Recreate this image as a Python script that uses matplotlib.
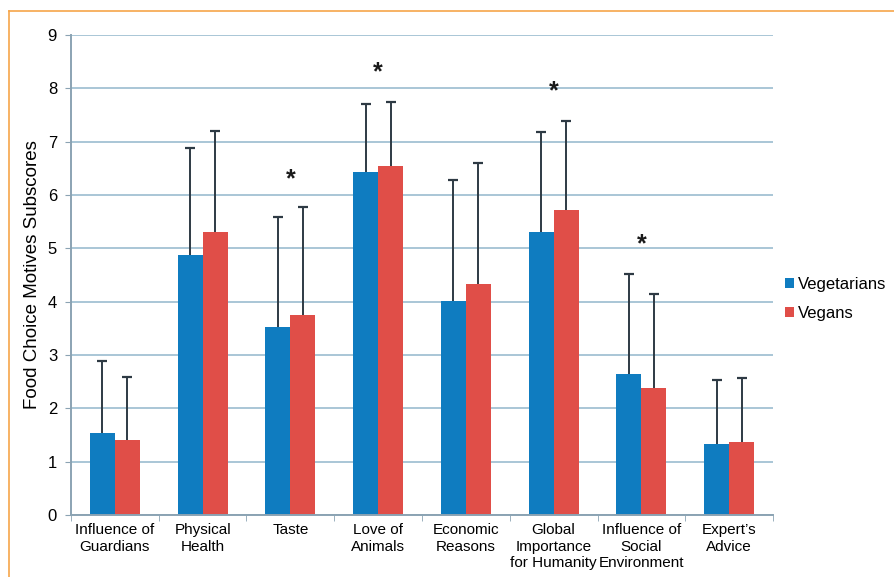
import numpy as np
import matplotlib.pyplot as plt
from matplotlib.lines import Line2D

plt.rcParams['font.family'] = ['Liberation Sans', 'DejaVu Sans']

categories = ["Influence of\nGuardians", "Physical\nHealth", "Taste", "Love of\nAnimals",
              "Economic\nReasons", "Global\nImportance\nfor Humanity",
              "Influence of\nSocial\nEnvironment", "Expert’s\nAdvice"]
veg_mean = [1.53, 4.87, 3.52, 6.44, 4.01, 5.31, 2.64, 1.34]
veg_top = [2.88, 6.88, 5.58, 7.71, 6.29, 7.19, 4.52, 2.53]
vegan_mean = [1.41, 5.30, 3.75, 6.54, 4.33, 5.71, 2.39, 1.36]
vegan_top = [2.59, 7.20, 5.78, 7.75, 6.60, 7.39, 4.14, 2.56]
# significant differences and where the star sits
star_idx = [2, 3, 5, 6]
star_y = [6.3, 8.3, 7.95, 5.08]

blue = "#0f7cc0"
red = "#e04e48"
grid_c = "#a9c6d6"
axis_c = "#8ba3b3"
err_c = "#2e3a44"

fig = plt.figure(figsize=(8.95, 5.77), dpi=100)
ax = fig.add_axes([0.0793, 0.1075, 0.7844, 0.8318])

x = np.arange(len(categories))
w = 0.285
for off, mean, top, col, lab in [(-w / 2, veg_mean, veg_top, blue, "Vegetarians"),
                                 (w / 2, vegan_mean, vegan_top, red, "Vegans")]:
    ax.bar(x + off, mean, w, color=col, label=lab, zorder=2)
    # upper error bar only
    ax.vlines(x + off, mean, top, color=err_c, linewidth=1.4, zorder=3)
    ax.plot(x + off, top, linestyle="none", marker="_", markersize=7,
            markeredgewidth=1.6, color=err_c, zorder=3)

for i, sy in zip(star_idx, star_y):
    ax.text(x[i], sy, "*", ha="center", va="center", fontsize=18,
            fontweight="bold", color="#1a1a1a")

ax.set_xlim(-0.5, len(categories) - 0.5)
ax.set_ylim(0, 9)
ax.set_yticks(range(10))
ax.set_xticks(x)
ax.set_xticklabels(categories, fontsize=11, linespacing=1.2)
ax.set_xticks(np.arange(-0.5, len(categories)), minor=True)
ax.tick_params(axis="x", which="major", length=0, pad=6)
ax.tick_params(axis="x", which="minor", length=4, color=axis_c)
ax.tick_params(axis="y", length=4, color=axis_c, labelsize=12, pad=6)
ax.grid(axis="y", color=grid_c, linewidth=1.4, zorder=0)
for s in ["top", "right"]:
    ax.spines[s].set_visible(False)
for s in ["left", "bottom"]:
    ax.spines[s].set_color(axis_c)
    ax.spines[s].set_linewidth(1.4)
ax.set_ylabel("Food Choice Motives Subscores", fontsize=13.5, labelpad=5)

ax.legend(loc="center left", bbox_to_anchor=(1.0, 0.45), frameon=False,
          fontsize=12, handlelength=0.55, handleheight=0.55, handletextpad=0.25,
          labelspacing=0.8, borderpad=0.2)

# orange frame around the figure
fig.add_artist(Line2D([9 / 895, 1], [1 - 11 / 577] * 2, color="#f6a64a", lw=1.2))
fig.add_artist(Line2D([9 / 895] * 2, [0, 1 - 11 / 577], color="#f6a64a", lw=1.2))

fig.savefig("out.png", dpi=100)
